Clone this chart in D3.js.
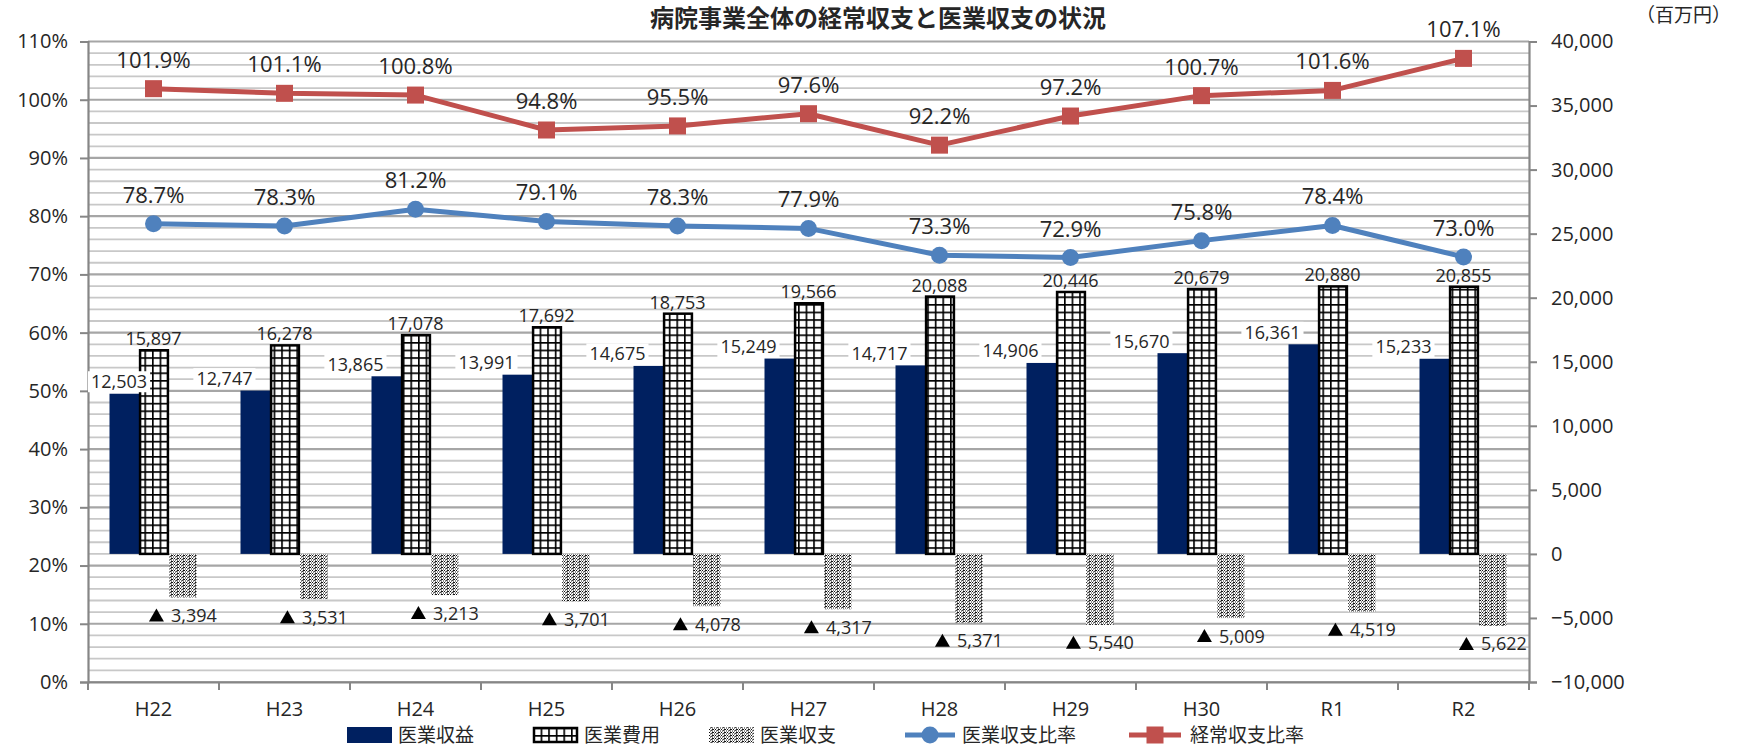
<!DOCTYPE html>
<html><head><meta charset="utf-8">
<script src="https://cdn.jsdelivr.net/npm/d3@7"></script>
<style>
html,body{margin:0;padding:0;background:#fff;overflow:hidden;}
text{font-family:"Open Sans","Noto Sans CJK JP",sans-serif;fill:#262626;}
</style></head>
<body><svg id="c" width="1739" height="747"></svg>
<script>
const categories = ["H22","H23","H24","H25","H26","H27","H28","H29","H30","R1","R2"];
const revenue = [12503,12747,13865,13991,14675,15249,14717,14906,15670,16361,15233];
const cost = [15897,16278,17078,17692,18753,19566,20088,20446,20679,20880,20855];
const balance = [-3394,-3531,-3213,-3701,-4078,-4317,-5371,-5540,-5009,-4519,-5622];
const medicalRatio = [78.7,78.3,81.2,79.1,78.3,77.9,73.3,72.9,75.8,78.4,73.0];
const ordinaryRatio = [101.9,101.1,100.8,94.8,95.5,97.6,92.2,97.2,100.7,101.6,107.1];
const leftTicks = [0,10,20,30,40,50,60,70,80,90,100,110];
const rightTicks = [-10000,-5000,0,5000,10000,15000,20000,25000,30000,35000,40000];
const seriesNames = ["医業収益","医業費用","医業収支","医業収支比率","経常収支比率"];
const title = "病院事業全体の経常収支と医業収支の状況";
const unitLabel = "（百万円）";

const svg = d3.select("#c");
const L = 88, R = 1529, T = 41.5, B = 682;
const x = d3.scaleBand().domain(categories).range([L, R]);
const sub = d3.scaleBand().domain(["rev","cost","bal"]).range([x.bandwidth()/2-44, x.bandwidth()/2+44]);
const yL = d3.scaleLinear().domain([0,110]).range([B, T]);
const yR = d3.scaleLinear().domain([-10000,40000]).range([B, T]);

const defs = svg.append("defs");
const gp = defs.append("pattern").attr("id","grid").attr("patternUnits","userSpaceOnUse").attr("width",7.6).attr("height",7.6);
gp.append("rect").attr("width",7.6).attr("height",7.6).attr("fill","#fff");
gp.append("path").attr("d","M0 0.8H7.6M0.8 0V7.6").attr("stroke","#000").attr("stroke-width",1.7);
const dp = defs.append("pattern").attr("id","dots").attr("patternUnits","userSpaceOnUse").attr("width",6).attr("height",3);
dp.append("rect").attr("width",6).attr("height",3).attr("fill","#fff");
[[0,0],[1,1.5],[3,0],[3,1.5],[4,0],[5,1.5],[2,0.8]].forEach(([a,b])=>dp.append("rect").attr("x",a).attr("y",b).attr("width",1).attr("height",1).attr("fill","#111"));

// gridlines
const minor = d3.range(0,111,2);
svg.append("g").selectAll("line").data(minor).join("line")
  .attr("x1",L).attr("x2",R).attr("y1",d=>yL(d)).attr("y2",d=>yL(d))
  .attr("stroke",d=>d%10===0?"#a6a6a6":"#c8c8c8").attr("stroke-width",d=>d%10===0?2.2:1.8);

const gBars = svg.append("g");
categories.forEach((c,i)=>{
  const x0 = x(c);
  gBars.append("rect").attr("x",x0+sub("rev")).attr("width",sub.bandwidth()+1)
    .attr("y",yR(revenue[i])).attr("height",yR(0)-yR(revenue[i])).attr("fill","#002060");
  gBars.append("rect").attr("x",x0+sub("cost")+1.25).attr("width",sub.bandwidth()-1.5)
    .attr("y",yR(cost[i])).attr("height",yR(0)-yR(cost[i])).attr("fill","url(#grid)")
    .attr("stroke","#000").attr("stroke-width",2.5);
  gBars.append("rect").attr("x",x0+sub("bal")+1).attr("width",sub.bandwidth()-2)
    .attr("y",yR(0)).attr("height",yR(balance[i])-yR(0)).attr("fill","url(#dots)");
});

// axes
const axL = svg.append("g").attr("transform",`translate(${L},0)`)
  .call(d3.axisLeft(yL).tickValues(leftTicks).tickFormat(d=>d+"%").tickSize(8).tickPadding(12));
const axR = svg.append("g").attr("transform",`translate(${R},0)`)
  .call(d3.axisRight(yR).tickValues(rightTicks).tickFormat(d3.format(",")).tickSize(8).tickPadding(14));
const axB = svg.append("g").attr("transform",`translate(0,${B})`)
  .call(d3.axisBottom(x).tickSize(0).tickPadding(20));
[axL,axR].forEach(a=>{a.select(".domain").attr("stroke","#868686").attr("stroke-width",2.2);
  a.selectAll(".tick line").attr("stroke","#868686").attr("stroke-width",2);
  a.selectAll("text").style("font-size","20px").attr("fill","#262626");});
axB.select(".domain").attr("stroke","#868686").attr("stroke-width",2.2);
axB.selectAll("text").style("font-size","20px").attr("fill","#262626");
svg.append("g").selectAll("line").data(categories.concat(["_end"])).join("line")
  .attr("x1",(d,i)=>L+i*x.bandwidth()).attr("x2",(d,i)=>L+i*x.bandwidth())
  .attr("y1",B).attr("y2",B+8).attr("stroke","#868686").attr("stroke-width",2);

// revenue labels with white boxes
const gRev = svg.append("g");
categories.forEach((c,i)=>{
  const left = x(c)+sub("rev");
  const cy = yR(revenue[i])-12;
  const t = gRev.append("text").text(d3.format(",")(revenue[i])).style("font-size","18px")
    .attr("text-anchor","end").attr("y",cy+6.5);
  const w = t.node().getComputedTextLength();
  const xr = Math.max(left+12, 91+w);
  t.attr("x",xr);
  gRev.insert("rect","text").attr("x",xr-w-3).attr("y",cy-10.5).attr("width",w+6).attr("height",21).attr("fill","#fff");
});
categories.forEach((c,i)=>{
  svg.append("text").text(d3.format(",")(cost[i])).style("font-size","18px").attr("text-anchor","middle")
    .attr("x",x(c)+sub("cost")+sub.bandwidth()/2).attr("y",yR(cost[i])-11+6);
  const g = svg.append("g").attr("transform",`translate(${x(c)+sub("bal")+sub.bandwidth()/2},${yR(balance[i])+18})`);
  const t = g.append("text").text(d3.format(",")(-balance[i])).style("font-size","18px").attr("y",6.5);
  const w = t.node().getComputedTextLength();
  const total = 15+7+w;
  g.append("path").attr("d",`M${-total/2} 6 L${-total/2+15} 6 L${-total/2+7.5} -7 Z`).attr("fill","#000");
  t.attr("x",-total/2+22);
});

// lines
function drawLine(vals,color,shape){
  const pts = categories.map((c,i)=>[x(c)+x.bandwidth()/2, yL(vals[i])]);
  svg.append("path").attr("d",d3.line()(pts)).attr("fill","none").attr("stroke",color).attr("stroke-width",5).attr("stroke-linejoin","round");
  pts.forEach((p,i)=>{
    if(shape==="sq") svg.append("rect").attr("x",p[0]-8.5).attr("y",p[1]-8.5).attr("width",17).attr("height",17).attr("fill",color);
    else svg.append("circle").attr("cx",p[0]).attr("cy",p[1]).attr("r",8.5).attr("fill",color);
    svg.append("text").text(vals[i].toFixed(1)+"%").style("font-size","22px").attr("text-anchor","middle")
      .attr("x",p[0]).attr("y",p[1]-29+8);
  });
}
drawLine(medicalRatio,"#4F81BD","circle");
drawLine(ordinaryRatio,"#C0504D","sq");

// title & unit
svg.append("text").text(title).attr("x",878).attr("y",27).attr("text-anchor","middle")
  .style("font-family","'Noto Sans CJK JP'").style("font-weight","700").style("font-size","24px");
svg.append("text").text(unitLabel).attr("x",1731).attr("y",22).attr("text-anchor","end")
  .style("font-family","'Noto Sans CJK JP'").style("font-size","19px");

// legend
const lg = svg.append("g").attr("transform","translate(0,735)");
const lx = [347,533,709,905,1129];
lx.forEach((px,i)=>{
  const g = lg.append("g").attr("transform",`translate(${px},0)`);
  if(i===0) g.append("rect").attr("x",0).attr("y",-8).attr("width",45).attr("height",16).attr("fill","#002060");
  if(i===1) g.append("rect").attr("x",1).attr("y",-7).attr("width",43).attr("height",14).attr("fill","url(#grid)").attr("stroke","#000").attr("stroke-width",2.5);
  if(i===2) g.append("rect").attr("x",0).attr("y",-8).attr("width",45).attr("height",16).attr("fill","url(#dots)");
  if(i===3){g.append("line").attr("x1",0).attr("x2",50).attr("stroke","#4F81BD").attr("stroke-width",5);
    g.append("circle").attr("cx",25).attr("r",8.5).attr("fill","#4F81BD");}
  if(i===4){g.append("line").attr("x1",0).attr("x2",52).attr("stroke","#C0504D").attr("stroke-width",5);
    g.append("rect").attr("x",17.5).attr("y",-8.5).attr("width",17).attr("height",17).attr("fill","#C0504D");}
  g.append("text").text(seriesNames[i]).attr("x",i>=3?(i===3?57:61):51).attr("y",6.5)
    .style("font-family","'Noto Sans CJK JP'").style("font-size","19px");
});
</script></body></html>
